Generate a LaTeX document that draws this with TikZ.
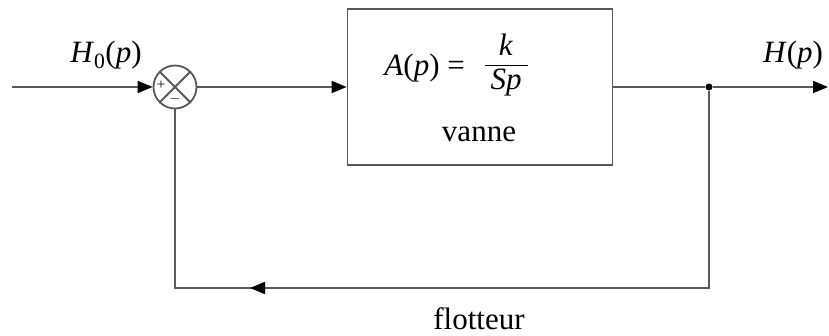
\documentclass[tikz,border=0pt]{standalone}
\usepackage{amsmath}
\usepackage{fontspec}
\setmainfont{Liberation Serif}
\usetikzlibrary{arrows.meta}
\begin{document}
\begin{tikzpicture}[x=1pt,y=-1pt,
  wire/.style={draw=black!65, line width=1.8pt},
  tip/.style={-{Triangle[length=15pt,width=12pt,fill=black,color=black]}},
  lbl/.style={font=\fontsize{31}{36}\selectfont, inner sep=0pt},
  sgn/.style={font=\fontsize{15}{17}\selectfont, inner sep=0pt}]
\useasboundingbox (0,0) rectangle (829,336);
% nodes
\coordinate (in) at (12,87);
\node[circle, draw=black!65, line width=1.8pt, minimum size=43pt, inner sep=0pt] (sum) at (175,87) {};
\draw[wire] (sum.north west) -- (sum.south east) (sum.north east) -- (sum.south west);
\node[sgn] (plus) at (161,85) {+};
\node[sgn] (minus) at (175,99) {$-$};
\node[draw=black!65, line width=1.8pt, minimum width=265pt, minimum height=156pt, inner sep=0pt] (box) at (480,87) {};
\node[lbl, anchor=east] (A) at (465,68) {\textit{A}(\textit{p}) =};
\node[lbl] (frac) at (506,65) {$\dfrac{\text{\textit{k}}}{\hspace{6pt}\text{\textit{Sp}}\hspace{6pt}}$};
\node[lbl] (vanne) at (479,134) {vanne};
\node[circle, fill=black, inner sep=0pt, minimum size=7pt] (dot) at (709,87) {};
\coordinate (out) at (828,87);
\coordinate (br) at (709,288);
\coordinate (bl) at (175,288);
\coordinate (am) at (250,288);
\node[lbl] (H0) at (106,55) {\textit{H}\textsubscript{0}(\textit{p})};
\node[lbl] (H) at (793,55) {\textit{H}(\textit{p})};
\node[lbl] (flot) at (479,319) {flotteur};
% connectors
\draw[wire, tip] (in) -- (sum.west);
\draw[wire, tip] (sum.east) -- (box.west);
\draw[wire] (box.east) -- (dot);
\draw[wire, tip] (dot) -- (out);
\draw[wire] (dot) -- (br) -- (bl) -- (sum.south);
\draw[wire, tip] (br) -- (am);
\end{tikzpicture}
\end{document}
